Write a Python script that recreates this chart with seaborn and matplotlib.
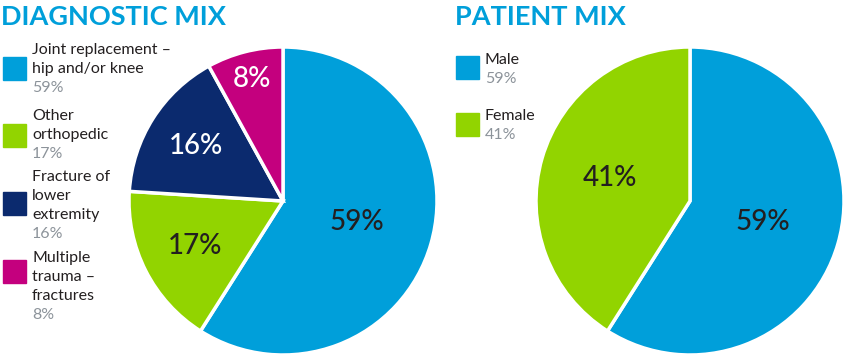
import matplotlib
matplotlib.use("Agg")
import numpy as np
import matplotlib.pyplot as plt
from matplotlib.patches import Rectangle
import seaborn as sns

# data
diag_names = ["Joint replacement –\nhip and/or knee", "Other\northopedic",
              "Fracture of\nlower\nextremity", "Multiple\ntrauma –\nfractures"]
diag_values = [59, 17, 16, 8]
patient_names = ["Male", "Female"]
patient_values = [59, 41]

BLUE = "#009FDA"
GREEN = "#92D400"
NAVY = "#0B2A6E"
MAGENTA = "#C4007E"
DARK = "#231F20"
GRAY = "#8C939A"

sns.set_theme(style="white")
plt.rcParams["font.family"] = ["Lato", "DejaVu Sans"]

W, H = 850, 362
fig = plt.figure(figsize=(W / 100, H / 100), dpi=100)


def px(x, y):
    return x / W, 1 - y / H


def pie_axes(cx, cy, r):
    ax = fig.add_axes([(cx - r) / W, (H - cy - r) / H, 2 * r / W, 2 * r / H])
    ax.axis("off")
    return ax


def draw_pie(ax, values, colors, text_colors, dists):
    wedges, _ = ax.pie(values, colors=colors, startangle=90, counterclock=False,
                       radius=1, wedgeprops=dict(edgecolor="white", linewidth=2.5))
    ax.set_xlim(-1, 1)
    ax.set_ylim(-1, 1)
    ax.set_aspect("equal")
    for w, v, tc, d in zip(wedges, values, text_colors, dists):
        ang = np.deg2rad((w.theta1 + w.theta2) / 2)
        ax.text(d * np.cos(ang), d * np.sin(ang), f"{v}%", color=tc,
                fontsize=20, ha="center", va="center", fontweight="medium")


# left pie
ax1 = pie_axes(283, 201, 154)
draw_pie(ax1, diag_values, [BLUE, GREEN, NAVY, MAGENTA],
         [DARK, DARK, "white", "white"], [0.5, 0.64, 0.67, 0.82])

# right pie
ax2 = pie_axes(690, 201, 154)
draw_pie(ax2, patient_values, [BLUE, GREEN], [DARK, DARK], [0.49, 0.54])

# titles
fig.text(*px(1, 17), "DIAGNOSTIC MIX", color=BLUE, fontsize=19.5,
         fontweight="bold", ha="left", va="center")
fig.text(*px(455, 17), "PATIENT MIX", color=BLUE, fontsize=19.5,
         fontweight="bold", ha="left", va="center")


def legend(x_sq, x_txt, sq_centers, text_tops, names, values, colors):
    line = 19
    for yc, yt, name, v, c in zip(sq_centers, text_tops, names, values, colors):
        x0, y0 = px(x_sq, yc + 11.5)
        fig.add_artist(Rectangle((x0, y0), 23 / W, 23 / H, color=c,
                                 transform=fig.transFigure))
        lines = name.split("\n")
        for i, ln in enumerate(lines):
            fig.text(*px(x_txt, yt + i * line), ln, color=DARK, fontsize=11.5,
                     ha="left", va="center")
        fig.text(*px(x_txt, yt + len(lines) * line), f"{v}%", color=GRAY,
                 fontsize=11.5, ha="left", va="center")


legend(3, 32, [68, 135.5, 203.5, 271.5], [50, 116, 177, 258],
       diag_names, diag_values, [BLUE, GREEN, NAVY, MAGENTA])
legend(456, 485, [67.5, 124.5], [60, 116], patient_names, patient_values,
       [BLUE, GREEN])

fig.savefig("out.png", dpi=100)
